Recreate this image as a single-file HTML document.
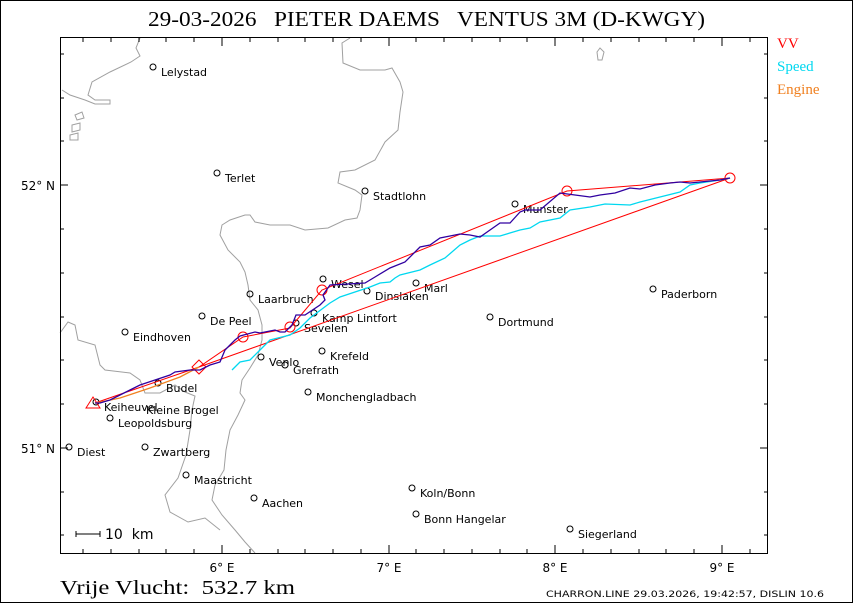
<!DOCTYPE html>
<html><head><meta charset="utf-8"><style>
html,body{margin:0;padding:0;background:#fff;}
svg{display:block;}
text{font-family:"DejaVu Sans","Liberation Sans",sans-serif;white-space:pre;}
</style></head><body>
<svg width="853" height="603" viewBox="0 0 853 603" xmlns="http://www.w3.org/2000/svg" xml:space="preserve">
<rect x="0.5" y="0.5" width="852" height="602" fill="#fff" stroke="#000"/>
<text x="148" y="26" font-size="21" textLength="557" lengthAdjust="spacingAndGlyphs" style="font-family:'Liberation Serif',serif">29-03-2026   PIETER DAEMS   VENTUS 3M (D-KWGY)</text>
<text x="777" y="48" fill="#f00" font-size="15" style="font-family:'Liberation Serif',serif">VV</text>
<text x="777" y="71" fill="#00d8f0" font-size="15" style="font-family:'Liberation Serif',serif">Speed</text>
<text x="777" y="94" fill="#f08020" font-size="15" style="font-family:'Liberation Serif',serif">Engine</text>

<g fill="none" stroke="#a0a0a0" stroke-width="1">
<path d="M350,38 L342,43 343,63 360,70 385,70 392,68 400,82 403,92 400,112 398,130 385,142 375,160 355,170 340,172 338,183 355,190 362,195 360,210 357,218 345,220 328,228 305,230 290,225 270,225 255,222 250,215 245,215 230,220 222,225 220,235 228,250 240,262 245,272 248,285 250,300 258,310 262,325 262,340 258,355 250,368 242,380 240,393 245,400 238,415 230,430 226,450 224,470 215,485 212,500 222,515 235,530 245,542 255,553"/>
<path d="M140,38 L136,48 140,56 131,62 110,72 92,82 88,95 95,100 110,100 110,104 95,104 85,100 70,95 62,90"/>
<path d="M60,333 L68,322 75,325 78,340 95,345 100,365 105,370 130,373 140,380 145,393 160,393 175,385 185,392 195,396 192,410 190,430 186,455 178,478 165,495 170,512 188,522 205,518 220,530"/>
<path d="M75,115 L82,112 84,118 77,120Z M72,125 L80,123 80,130 72,132Z M70,135 L78,133 78,140 70,140Z"/>
<path d="M597,52 L600,48 604,52 602,60 598,60Z"/>
</g>

<rect x="60.5" y="37.5" width="707" height="516" fill="none" stroke="#000"/>
<g stroke="#000" stroke-width="1">
<path d="M222,553v-8M389,553v-8M555,553v-8M722,553v-8M222,38v8M389,38v8M555,38v8M722,38v8
M83,553v-4M111,553v-4M139,553v-4M166,553v-4M194,553v-4M250,553v-4M278,553v-4M305,553v-4M333,553v-4M361,553v-4M416,553v-4M444,553v-4M472,553v-4M500,553v-4M527,553v-4M583,553v-4M611,553v-4M639,553v-4M666,553v-4M694,553v-4M750,553v-4
M83,38v4M111,38v4M139,38v4M166,38v4M194,38v4M250,38v4M278,38v4M305,38v4M333,38v4M361,38v4M416,38v4M444,38v4M472,38v4M500,38v4M527,38v4M583,38v4M611,38v4M639,38v4M666,38v4M694,38v4M750,38v4
M60,185h8M60,448h8M768,185h-8M768,448h-8
M60,54h4M60,98h4M60,141h4M60,229h4M60,273h4M60,317h4M60,360h4M60,404h4M60,492h4M60,535h4
M768,54h-4M768,98h-4M768,141h-4M768,229h-4M768,273h-4M768,317h-4M768,360h-4M768,404h-4M768,492h-4M768,535h-4"/>
</g>
<g font-size="12" fill="#000">
<text x="55" y="190" text-anchor="end">52° N</text>
<text x="55" y="453" text-anchor="end">51° N</text>
<text x="222" y="572" text-anchor="middle">6° E</text>
<text x="389" y="572" text-anchor="middle">7° E</text>
<text x="555" y="572" text-anchor="middle">8° E</text>
<text x="722" y="572" text-anchor="middle">9° E</text>
</g>

<g fill="none" stroke="#000" stroke-width="1">
<circle cx="153" cy="67" r="3"/><circle cx="217" cy="173" r="3"/><circle cx="365" cy="191" r="3"/><circle cx="515" cy="204" r="3"/>
<circle cx="323" cy="279" r="3"/><circle cx="416" cy="283" r="3"/><circle cx="367" cy="291" r="3"/><circle cx="653" cy="289" r="3"/>
<circle cx="250" cy="294" r="3"/><circle cx="314" cy="313" r="3"/><circle cx="490" cy="317" r="3"/><circle cx="202" cy="316" r="3"/>
<circle cx="296" cy="323" r="3"/><circle cx="125" cy="332" r="3"/><circle cx="322" cy="351" r="3"/><circle cx="261" cy="357" r="3"/>
<circle cx="285" cy="365" r="3"/><circle cx="158" cy="383" r="3"/><circle cx="308" cy="392" r="3"/><circle cx="96" cy="402" r="3"/>
<circle cx="110" cy="418" r="3"/><circle cx="69" cy="447" r="3"/><circle cx="145" cy="447" r="3"/><circle cx="186" cy="475" r="3"/>
<circle cx="254" cy="498" r="3"/><circle cx="412" cy="488" r="3"/><circle cx="416" cy="514" r="3"/><circle cx="570" cy="529" r="3"/>
</g>
<g font-size="11" fill="#000">
<text x="161" y="76">Lelystad</text><text x="225" y="182">Terlet</text><text x="373" y="200">Stadtlohn</text><text x="523" y="213">Munster</text>
<text x="331" y="288">Wesel</text><text x="424" y="292">Marl</text><text x="375" y="300">Dinslaken</text><text x="661" y="298">Paderborn</text>
<text x="258" y="303">Laarbruch</text><text x="322" y="322">Kamp Lintfort</text><text x="498" y="326">Dortmund</text><text x="210" y="325">De Peel</text>
<text x="304" y="332">Sevelen</text><text x="133" y="341">Eindhoven</text><text x="330" y="360">Krefeld</text><text x="269" y="366">Venlo</text>
<text x="293" y="374">Grefrath</text><text x="166" y="392">Budel</text><text x="316" y="401">Monchengladbach</text><text x="104" y="411">Keiheuvel</text>
<text x="146" y="414">Kleine Brogel</text><text x="118" y="427">Leopoldsburg</text><text x="77" y="456">Diest</text><text x="153" y="456">Zwartberg</text>
<text x="194" y="484">Maastricht</text><text x="262" y="507">Aachen</text><text x="420" y="497">Koln/Bonn</text><text x="424" y="523">Bonn Hangelar</text>
<text x="578" y="538">Siegerland</text>
</g>

<g fill="none" stroke="#f00" stroke-width="1">
<polyline points="95,403 199,367 243,337 290,328 322,290 567,191 730,178 199,367"/>
<circle cx="567" cy="191" r="5"/><circle cx="730" cy="178" r="5"/><circle cx="322" cy="290" r="5"/><circle cx="243" cy="337" r="5"/><circle cx="290" cy="327" r="5"/>
<path d="M199,360 L206,367 199,374 192,367Z"/>
<path d="M93,397 L100,408 86,408Z"/>
</g>
<polyline fill="none" stroke="#00d8f0" stroke-width="1.3" points="232,370 240,362 250,360 260,350 270,340 290,335 300,328 310,318 330,303 340,297 370,287 380,283 390,282 395,278 400,275 420,270 430,265 445,258 460,245 470,240 480,236 500,236 520,230 530,228 540,222 560,218 570,210 590,207 605,204 630,205 640,202 660,197 680,192 690,185 700,183 720,180 730,178"/>
<polyline fill="none" stroke="#f08020" stroke-width="1.3" points="96,403 120,398 150,388 180,377 199,367"/>
<polyline fill="none" stroke="#3000a0" stroke-width="1.3" points="95,403 100,403 110,400 120,395 130,390 140,385 155,380 170,375 175,372 190,370 200,370 210,365 220,362 225,350 230,345 235,340 240,336 255,332 260,333 275,330 280,332 285,332 292,325 296,315 305,315 320,305 325,300 323,295 330,285 365,283 375,277 390,268 405,262 420,247 430,245 440,238 460,234 470,235 480,237 490,230 500,223 510,223 520,212 525,210 540,210 560,193 575,195 590,197 600,195 615,193 630,188 640,189 655,185 670,183 680,182 690,183 700,182 710,181 720,180 730,178"/>

<path d="M76,534h24M76,531v6M100,531v6" stroke="#000" fill="none"/>
<text x="105" y="539" font-size="14">10  km</text>

<text x="60" y="594" font-size="20" textLength="235" lengthAdjust="spacingAndGlyphs" style="font-family:'Liberation Serif',serif">Vrije Vlucht:  532.7 km</text>
<text x="546" y="597" font-size="9" textLength="278" lengthAdjust="spacingAndGlyphs">CHARRON.LINE 29.03.2026, 19:42:57, DISLIN 10.6</text>
</svg>
</body></html>
